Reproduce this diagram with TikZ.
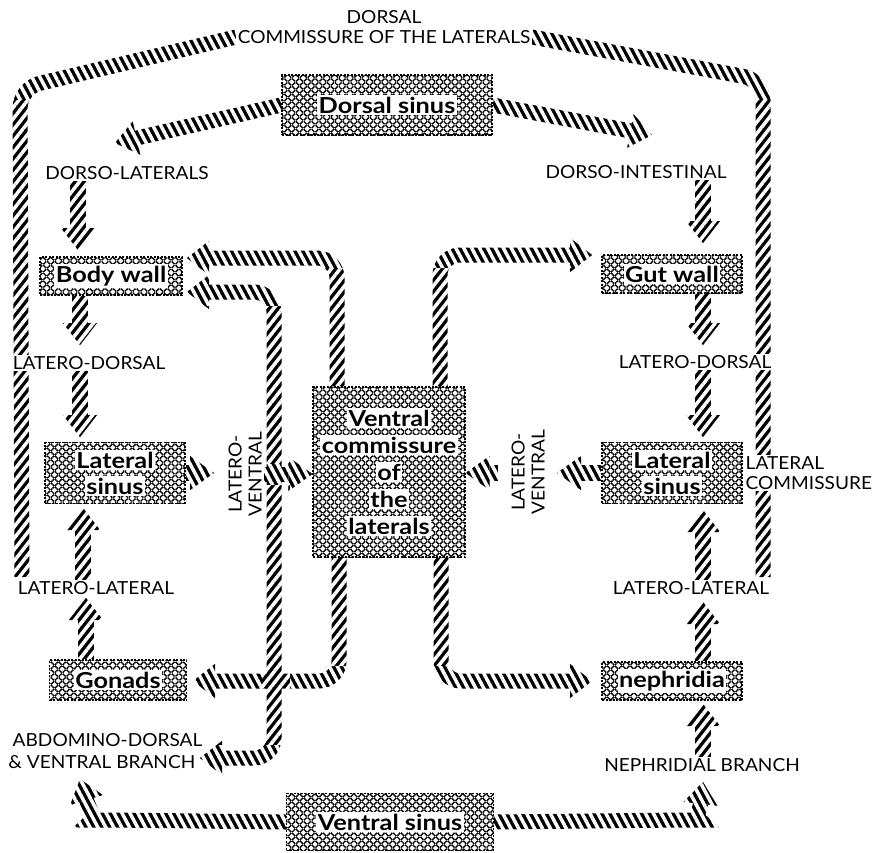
\documentclass[tikz,border=0pt]{standalone}
\usepackage{fontspec}
\setmainfont{Lato}
\newfontfamily\labfont[FakeStretch=1.06]{Lato}
\newfontfamily\boxfont[FakeStretch=1.15]{Lato}
\usetikzlibrary{arrows.meta,patterns.meta}
\pgfdeclarelayer{bg}
\pgfsetlayers{bg,main}
\newcommand\wb[1]{{\setlength\fboxsep{1.5pt}\colorbox{white}{#1}}}
\begin{document}
\begin{tikzpicture}[x=1pt,y=-1pt,
 band/.style={line width=15pt,rounded corners=20pt},
 sbar/.style={line width=16pt},
 tipA/.style={-{Triangle[length=22pt,width=34pt,line width=0.1pt]}},
 tipB/.style={{Triangle[length=22pt,width=34pt,line width=0.1pt]}-{Triangle[length=22pt,width=34pt,line width=0.1pt]}},
 tipC/.style={-{Triangle[length=24pt,width=34pt,line width=0.1pt]}},
 lab/.style={font=\labfont\fontsize{18}{20}\selectfont, fill=white, inner sep=1.5pt},
 bx/.style={draw, dash pattern=on 2pt off 1.5pt, line width=1.2pt,
   pattern={Hatch[angle=45,distance=5.5pt,line width=1.4pt]}, inner sep=0pt,
   font=\boxfont\fontsize{22}{26}\selectfont\bfseries, align=center},
 vstripe/.style={pattern={Lines[angle=52,distance=7pt,line width=3.5pt]},pattern color=white},
 hstripe/.style={pattern={Lines[angle=-62,distance=7pt,line width=3.5pt]},pattern color=white}
]
\useasboundingbox (0,0) rectangle (875,852);

% boxes
\node[bx, minimum width=210pt, minimum height=60pt] (ds) at (387,105) {\wb{Dorsal sinus}};
\node[bx, minimum width=142pt, minimum height=38pt] (bw) at (111,276) {\wb{Body wall}};
\node[bx, minimum width=140pt, minimum height=38pt] (gw) at (672,274) {\wb{Gut wall}};
\node[bx, minimum width=140pt, minimum height=61pt] (lsl) at (115,473) {\wb{Lateral}\\\wb{sinus}};
\node[bx, minimum width=152pt, minimum height=170pt, font=\boxfont\fontsize{22}{27}\selectfont\bfseries] (vc) at (389,472) {\wb{Ventral}\\\wb{commissure}\\\wb{of}\\\wb{the}\\\wb{laterals}};
\node[bx, minimum width=140pt, minimum height=61pt] (lsr) at (672,473) {\wb{Lateral}\\\wb{sinus}};
\node[bx, minimum width=137pt, minimum height=40pt] (gon) at (118,680) {\wb{Gonads}};
\node[bx, minimum width=140pt, minimum height=38pt] (nep) at (672,681) {\wb{nephridia}};
\node[bx, minimum width=207pt, minimum height=57pt] (vs) at (390,822) {\wb{Ventral sinus}};

% labels
\node[lab] (dorsal) at (384,17) {DORSAL};
\node[lab] (dcl) at (384,37) {COMMISSURE OF THE LATERALS};
\node[lab] (dl) at (127,173) {DORSO-LATERALS};
\node[lab] (di) at (636,172) {DORSO-INTESTINAL};
\node[lab] (ldl) at (89,363) {LATERO-DORSAL};
\node[lab] (ldr) at (695,362) {LATERO-DORSAL};
\node[lab] (lll) at (96,588) {LATERO-LATERAL};
\node[lab] (llr) at (691,588) {LATERO-LATERAL};
\node[lab, anchor=east] (ad) at (204,740) {ABDOMINO-DORSAL};
\node[lab, anchor=east] (vb) at (197,762) {\& VENTRAL BRANCH};
\node[lab] (nb) at (702,765) {NEPHRIDIAL BRANCH};
\node[lab, align=left, anchor=west] (lc) at (744,473) {LATERAL\\COMMISSURE};
\node[lab, rotate=90, align=center] (lvl) at (245,474) {LATERO-\\VENTRAL};
\node[lab, rotate=90, align=center] (lvr) at (528,472) {LATERO-\\VENTRAL};

\begin{pgfonlayer}{bg}
% dorsal commissure
\draw[band] (22,577) -- (20,88) -- (dcl.west);
\draw[band] (dcl.east) -- (763,80) -- (763,577);
% from dorsal sinus
\draw[band,tipA] (ds.west) -- (115,143);
\draw[band,tipA] (ds.east) -- (652,135);
% left column
\draw[sbar,tipA] (dl.south -| 78,0) -- (78,250);
\draw[sbar,tipA] (bw.south -| 80,0) -- (80,345);
\draw[sbar,tipA] (ldl.south -| 80,0) -- (80,437);
\draw[sbar,tipA] (lll.north -| 83,0) -- (83,508);
\draw[sbar,tipA] (gon.north -| 86,0) -- (86,598);
% right column
\draw[sbar,tipA] (di.south -| 703,0) -- (703,243);
\draw[sbar,tipA] (gw.south -| 703,0) -- (703,345);
\draw[sbar,tipA] (ldr.south -| 703,0) -- (703,437);
\draw[sbar,tipA] (llr.north -| 703,0) -- (703,510);
\draw[sbar,tipA] (nep.north -| 703,0) -- (703,602);
\draw[sbar,tipA] (nb.north -| 703,0) -- (703,704);
% loops from ventral commissure
\draw[band,tipA] (vc.north -| 337,0) -- (337,258) -- (187,258);
\draw[band,tipA] (vc.north -| 440,0) -- (440,255) -- (592,255);
\draw[band,tipA] (vc.south -| 339,0) -- (339,681) -- (193,681);
\draw[band,tipA] (vc.south -| 441,0) -- (441,681) -- (592,681);
\draw[band,tipB] (200,758) -- (274,758) -- (274,292) -- (187,292);
% latero-ventral
\draw[sbar,tipC] (lsl.east |- 0,473) -- (214,473);
\draw[band,tipC] (264,474) -- (vc.west |- 0,474);
\draw[sbar,tipC] (lsr.west |- 0,473) -- (557,473);
\draw[sbar,tipC] (498,473) -- (vc.east |- 0,473);
% from ventral sinus
\draw[band,tipA] (vs.west) -- (112,820) .. controls (95,820) and (88,805) .. (80,779);
\draw[band,tipA] (vs.east) -- (680,820) .. controls (695,820) and (700,808) .. (703,782);

% hatching overlays
\begin{scope}
\clip (0,0) rectangle (875,100)
      (40,100) rectangle (745,162)
      (175,238) rectangle (320,306)
      (320,238) rectangle (605,268)
      (180,452) rectangle (224,494)
      (262,464) rectangle (290,485)
      (290,452) rectangle (324,494)
      (462,452) rectangle (505,494)
      (548,452) rectangle (602,494)
      (185,666) rectangle (262,697)
      (290,666) rectangle (605,697)
      (185,745) rectangle (290,775)
      (55,775) rectangle (740,852);
\fill[hstripe] (0,0) rectangle (875,852);
\end{scope}
\begin{scope}
\clip (0,100) rectangle (40,600)
      (745,100) rectangle (790,600)
      (50,180) rectangle (118,665)
      (672,180) rectangle (735,770)
      (262,306) rectangle (290,464)
      (262,485) rectangle (290,745)
      (320,268) rectangle (358,390)
      (420,268) rectangle (460,390)
      (320,555) rectangle (358,666)
      (420,555) rectangle (460,666);
\fill[vstripe] (0,0) rectangle (875,852);
\end{scope}
\end{pgfonlayer}
\end{tikzpicture}
\end{document}
